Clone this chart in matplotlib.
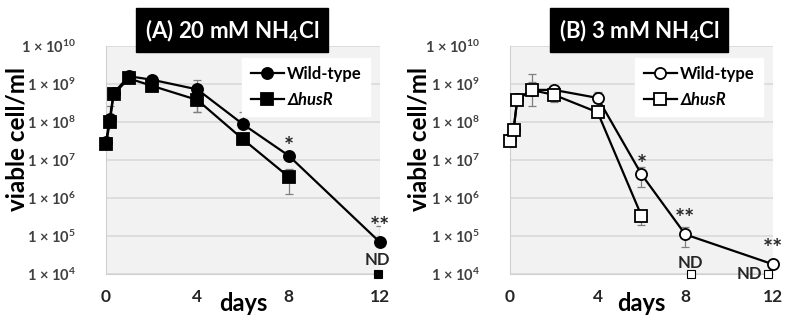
import matplotlib
matplotlib.use('Agg')
import matplotlib.pyplot as plt
import numpy as np

plt.rcParams['font.family'] = ['Lato', 'DejaVu Sans']
plt.rcParams['mathtext.fontset'] = 'custom'
plt.rcParams['mathtext.rm'] = 'Lato:bold'
plt.rcParams['mathtext.it'] = 'Lato:bold:italic'
plt.rcParams['mathtext.bf'] = 'Lato:bold'

##---------- data (days, viable cell/ml) ----------
days = [0, 1/6, 1/3, 1, 2, 4, 6, 8, 12]
xticks = [0, 4, 8, 12]
exps = [4, 5, 6, 7, 8, 9, 10]

a_wt = [3.0e7, 1.2e8, 5.8e8, 1.6e9, 1.3e9, 7.2e8, 8.7e7, 1.3e7, 6.8e4]
a_wt_sd = [0, 1.4e8, 0, 0, 0, 5.4e8, 1.0e8, 0, 1.2e5]
a_mut = [2.6e7, 1.0e8, 5.4e8, 1.4e9, 9.0e8, 3.8e8, 3.5e7, 3.6e6, np.nan]
a_mut_sd = [0, 0, 0, 0, 0, 2.0e8, 0, 2.3e6, 0]

b_wt = [3.6e7, 6.5e7, 4.0e8, 7.0e8, 7.0e8, 4.3e8, 4.2e6, 1.1e5, 1.8e4]
b_wt_sd = [0, 0, 0, 1.15e9, 0, 2.0e8, 2.25e6, 6.0e4, 0]
b_mut = [3.1e7, 6.3e7, 3.9e8, 6.9e8, 5.2e8, 1.8e8, 3.4e5, np.nan, np.nan]
b_mut_sd = [0, 0, 0, 4.2e8, 1.8e8, 0, 1.4e5, 0, 0]

limit = 1e4
a_nd_x = [11.9]
b_nd_x = [8.25, 11.75]

a_sig = [(8, '*'), (12, '**')]
b_sig = [(6, '*'), (8, '**'), (12, '**')]

titles = ['(A) 20 mM NH$_4$Cl', '(B) 3 mM NH$_4$Cl']

fig = plt.figure(figsize=(7.87, 3.2), dpi=100)
axA = fig.add_axes([0.1347, 0.14375, 0.3482, 0.7125])
axB = fig.add_axes([0.648, 0.14375, 0.3342, 0.7125])


def errbars(ax, x, v, sd):
    x = np.array(x); v = np.array(v, float); sd = np.array(sd, float)
    m = sd > 0
    lo = np.where(sd < v, sd, 0)
    ax.errorbar(x[m], v[m], yerr=[lo[m], sd[m]], fmt='none', ecolor='#7f7f7f',
                elinewidth=0.9, capsize=3, capthick=0.9, zorder=2)


def panel(ax, wt, wt_sd, mut, mut_sd, nd_x, sig, filled, ylab_x):
    ax.set_facecolor('#f2f2f2')
    ax.set_yscale('log')
    ax.set_ylim(1e4, 1e10)
    ax.set_xlim(0, 12)
    for e in exps:
        ax.axhline(10.0 ** e, color='#d9d9d9', lw=1.2, zorder=0)
    errbars(ax, days, wt, wt_sd)
    errbars(ax, days, mut, mut_sd)
    fc = 'black' if filled else 'white'
    ax.plot(days, wt, '-o', color='black', lw=1.6, ms=8, mfc=fc, mec='black',
            mew=1.3, label='Wild-type', zorder=3, clip_on=False)
    ax.plot(days, mut, '-s', color='black', lw=1.6, ms=8, mfc=fc, mec='black',
            mew=1.3, label='ΔhusR', zorder=3, clip_on=False)
    ax.plot(nd_x, [limit] * len(nd_x), 's', ms=6, mfc=fc, mec='black', mew=0.8,
            zorder=3, clip_on=False)
    for d, s in sig:
        v = wt[days.index(d)]
        off = 6 if s == '*' else 11
        ax.annotate(s, (d, v), xytext=(0, off), textcoords='offset points',
                    ha='center', va='center', fontsize=17, fontweight='bold',
                    color='#262626', annotation_clip=False)

    ax.set_yticks([10.0 ** e for e in exps])
    ax.set_yticklabels([f'1 × 10$^{{{e}}}$' for e in exps])
    ax.minorticks_off()
    ax.set_xticks(xticks)
    ax.set_xticklabels([str(t) for t in xticks])
    ax.tick_params(axis='y', length=0, pad=22, labelsize=10.5, labelcolor='#404040')
    ax.tick_params(axis='x', length=0, pad=11, labelsize=12.5, labelcolor='#262626')
    for lbl in ax.get_xticklabels() + ax.get_yticklabels():
        lbl.set_fontweight('bold')
    for sp in ['top', 'right']:
        ax.spines[sp].set_visible(False)
    for sp in ['left', 'bottom']:
        ax.spines[sp].set_color('#d0d0d0')
    ax.set_ylabel('viable cell/ml', fontsize=17.5, fontweight='bold')
    ax.yaxis.set_label_coords(ylab_x, 0.59)
    ax.yaxis.label.set_va('center')
    ax.set_xlabel('days', fontsize=17, fontweight='bold')
    ax.xaxis.set_label_coords(0.5, -0.13)
    ax.xaxis.label.set_va('center')
    leg = ax.legend(loc='upper right', bbox_to_anchor=(0.995, 0.985), frameon=True,
                    fancybox=False, edgecolor='white', framealpha=1,
                    prop={'weight': 'bold', 'size': 12}, handlelength=2.0,
                    handletextpad=0.2, borderpad=0.5, labelspacing=0.6)
    leg.get_texts()[1].set_style('italic')
    return ax


panel(axA, a_wt, a_wt_sd, a_mut, a_mut_sd, a_nd_x, a_sig, True, -0.325)
panel(axB, b_wt, b_wt_sd, b_mut, b_mut_sd, b_nd_x, b_sig, False, -0.345)

# ND labels
nd_style = dict(textcoords='offset points', ha='center', va='center', fontsize=12,
                fontweight='bold', color='#262626', annotation_clip=False)
axA.annotate('ND', (a_nd_x[0], limit), xytext=(0, 10), **nd_style)
axB.annotate('ND', (b_nd_x[0], limit), xytext=(0, 8), **nd_style)
axB.annotate('ND', (b_nd_x[1], limit), xytext=(-13, 0), **nd_style)

box = dict(facecolor='black', edgecolor='black', boxstyle='square,pad=0.4')
fig.text(0.295, 0.905, titles[0], ha='center', va='center', color='white',
         fontsize=16, fontweight='bold', bbox=box)
fig.text(0.812, 0.905, titles[1], ha='center', va='center', color='white',
         fontsize=16, fontweight='bold', bbox=box)

fig.savefig('out.png', dpi=100)
